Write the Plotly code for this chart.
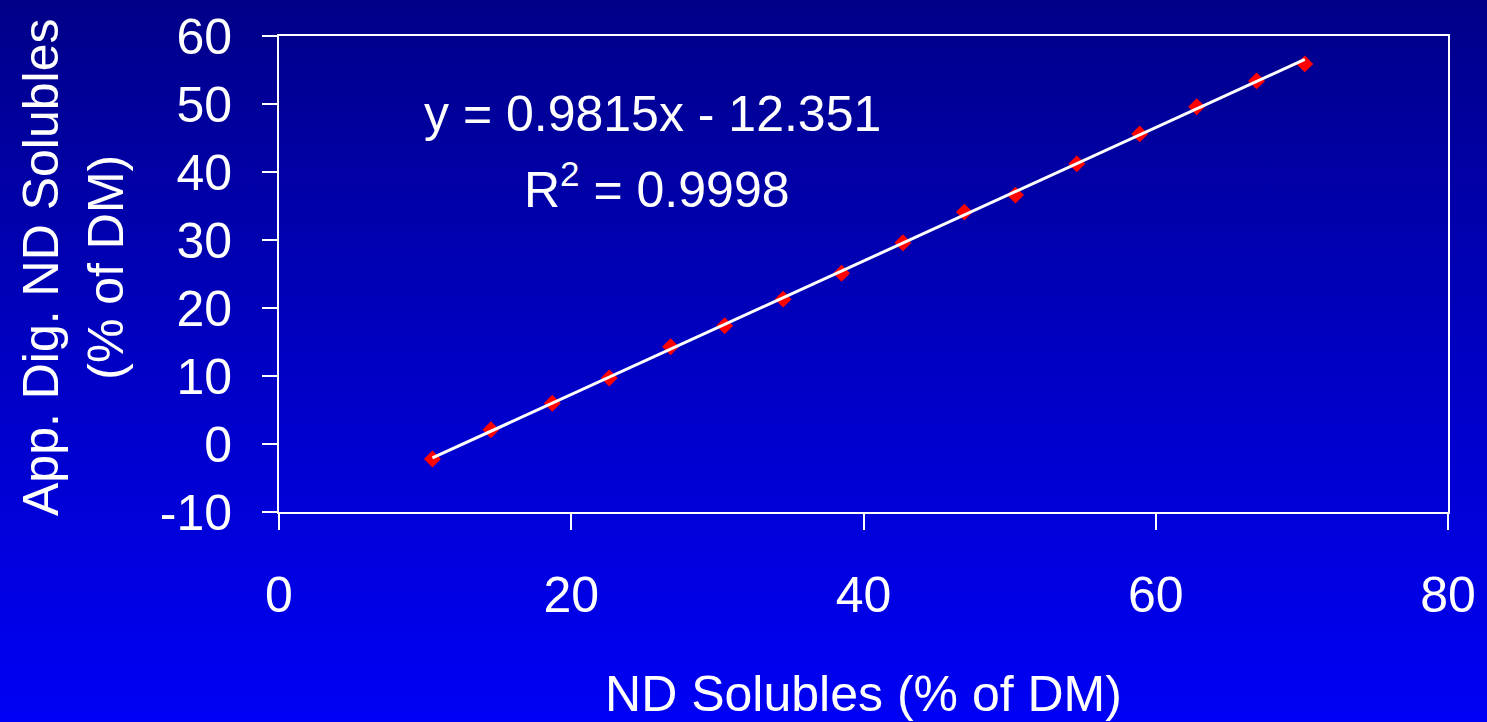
import base64
import plotly.graph_objects as go

# Data
nd_solubles = [10.5, 14.5, 18.7, 22.6, 26.8, 30.5, 34.5, 38.5, 42.7, 46.9, 50.4, 54.6, 58.9, 62.8, 66.9, 70.2]
app_dig = [-2.2, 2.1, 6.0, 9.7, 14.3, 17.4, 21.3, 25.1, 29.6, 34.1, 36.6, 41.2, 45.6, 49.6, 53.4, 55.9]

slope = 0.9815
intercept = -12.351
r_squared = 0.9998

x_ticks = [0, 20, 40, 60, 80]
y_ticks = [-10, 0, 10, 20, 30, 40, 50, 60]
y_tick_labels = ["-10", "0", "10", "20", "30", "40", "50", "60"]

FONT = "Liberation Sans, Arial, sans-serif"
FS = 50

# Trendline across the data range
tx = [min(nd_solubles), max(nd_solubles)]
ty = [slope * v + intercept for v in tx]

# Gradient background as SVG image
svg = (
    '<svg xmlns="http://www.w3.org/2000/svg" width="100" height="100" preserveAspectRatio="none">'
    '<defs><linearGradient id="g" x1="0" y1="0" x2="0" y2="1">'
    '<stop offset="0" stop-color="rgb(0,0,136)"/>'
    '<stop offset="0.5" stop-color="rgb(0,0,195)"/>'
    '<stop offset="1" stop-color="rgb(0,0,245)"/>'
    '</linearGradient></defs>'
    '<rect x="0" y="0" width="100" height="100" fill="url(#g)"/></svg>'
)
uri = "data:image/svg+xml;base64," + base64.b64encode(svg.encode()).decode()

W, H = 1487, 722
L, R, T, B = 279, 39, 36, 210
pw, ph = W - L - R, H - T - B

fig = go.Figure()
fig.add_trace(go.Scatter(
    x=nd_solubles, y=app_dig, mode="markers",
    marker=dict(symbol="diamond", size=13, color="#ff0000", line=dict(width=0)),
    showlegend=False, hoverinfo="x+y",
))
fig.add_trace(go.Scatter(
    x=tx, y=ty, mode="lines", line=dict(color="white", width=3),
    showlegend=False, hoverinfo="skip",
))

fig.add_annotation(
    x=(422 - L) / pw, y=1 - (114 - T) / ph, xref="paper", yref="paper", showarrow=False,
    text=f"y = {slope}x - {abs(intercept)}", xanchor="left", yanchor="middle",
    font=dict(family=FONT, size=FS, color="white"),
)
fig.add_annotation(
    x=(522 - L) / pw, y=1 - (186 - T) / ph, xref="paper", yref="paper", showarrow=False,
    text=f"R<sup>2</sup> = {r_squared}", xanchor="left", yanchor="middle",
    font=dict(family=FONT, size=FS, color="white"),
)
# Y-axis title (two lines, rotated)
fig.add_annotation(
    x=(73 - L) / pw, y=1 - (268 - T) / ph, xref="paper", yref="paper", showarrow=False,
    text="App. Dig. ND Solubles<br>(% of DM)", textangle=-90,
    xanchor="center", yanchor="middle",
    font=dict(family=FONT, size=FS, color="white"),
)

axis_common = dict(
    showgrid=False, zeroline=False, showline=True, linecolor="white", linewidth=2,
    mirror=True, ticks="outside", tickcolor="white", tickwidth=1.5,
    tickfont=dict(family=FONT, size=FS, color="white"),
)

fig.update_layout(
    width=W, height=H,
    margin=dict(l=L, r=R, t=T, b=B, autoexpand=False),
    paper_bgcolor="rgb(0,0,190)",
    plot_bgcolor="rgba(0,0,0,0)",
    images=[dict(
        source=uri, xref="paper", yref="paper",
        x=-L / pw, y=1 + T / ph, sizex=W / pw, sizey=H / ph,
        xanchor="left", yanchor="top", sizing="stretch", layer="below",
    )],
    xaxis=dict(
        range=[0, 80], tickvals=x_ticks, ticklen=16, ticklabelstandoff=22,
        title=dict(text="ND Solubles (% of DM)", font=dict(family=FONT, size=FS, color="white"), standoff=58),
        **axis_common,
    ),
    yaxis=dict(
        range=[-10, 60], tickvals=y_ticks, ticktext=y_tick_labels, ticklen=15, ticklabelstandoff=20,
        **axis_common,
    ),
    showlegend=False,
)

fig.write_html(
    "out.html",
    config={"displayModeBar": False},
    post_script="document.body.style.margin='0';document.body.style.padding='0';document.documentElement.style.margin='0';",
)
